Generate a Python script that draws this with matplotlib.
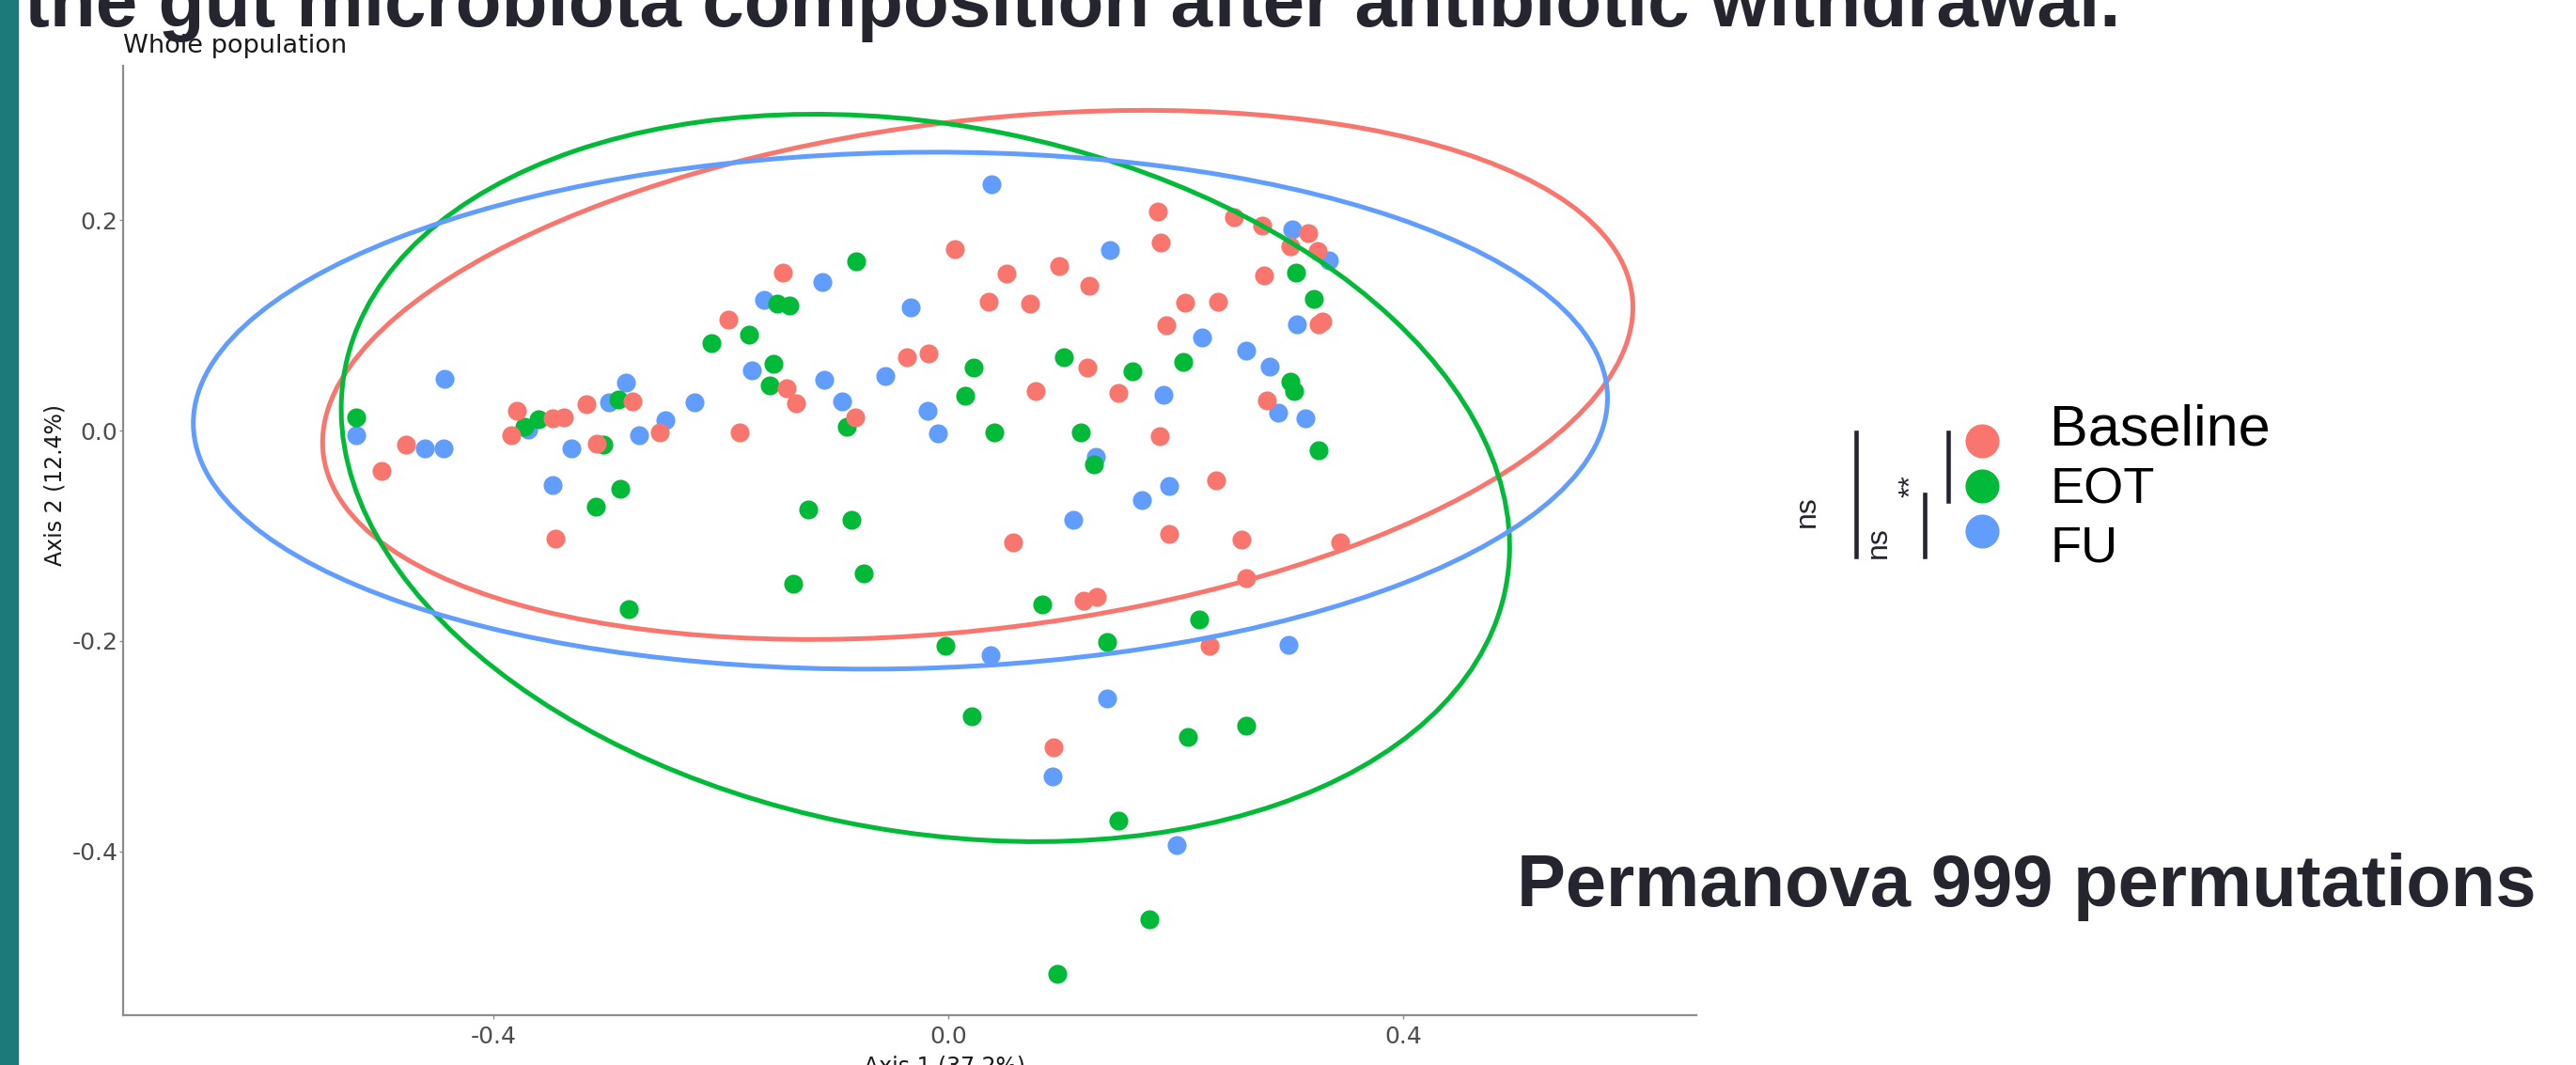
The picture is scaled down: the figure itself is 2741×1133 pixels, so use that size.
import matplotlib
matplotlib.use("Agg")
import matplotlib.pyplot as plt
from matplotlib.patches import Ellipse
import numpy as np

# PCoA coordinates (Axis 1, Axis 2)
baseline_x = [-0.145, -0.193, -0.142, -0.134, -0.183, -0.379, -0.384, -0.348, -0.338, -0.318,
              -0.278, -0.309, -0.254, -0.477, -0.498, -0.345, 0.006, 0.184, 0.187, 0.251,
              0.276, 0.301, 0.278, 0.051, 0.098, 0.124, 0.036, 0.072, 0.208, 0.237,
              0.192, -0.036, -0.017, 0.122, 0.077, 0.150, -0.082, 0.280, 0.186, 0.236,
              0.057, 0.194, 0.258, 0.262, 0.119, 0.131, 0.230, 0.317, 0.325, 0.326,
              0.329, 0.345, 0.093]
baseline_y = [0.150, 0.106, 0.040, 0.026, -0.002, 0.019, -0.004, 0.012, 0.013, 0.025,
              0.028, -0.012, -0.002, -0.013, -0.038, -0.103, 0.173, 0.208, 0.179, 0.203,
              0.195, 0.175, 0.148, 0.149, 0.157, 0.138, 0.123, 0.121, 0.122, 0.123,
              0.100, 0.070, 0.073, 0.060, 0.038, 0.036, 0.013, 0.029, -0.005, -0.047,
              -0.106, -0.098, -0.104, -0.140, -0.162, -0.158, -0.205, 0.188, 0.171, 0.101,
              0.104, -0.106, -0.301]

eot_x = [-0.521, -0.150, -0.140, -0.208, -0.175, -0.154, -0.157, -0.290, -0.373, -0.360,
         -0.303, -0.288, -0.310, -0.123, -0.136, -0.281, -0.081, 0.022, 0.015, 0.102,
         0.162, 0.207, -0.089, 0.041, 0.117, 0.128, 0.301, 0.304, 0.306, 0.322,
         0.326, -0.085, -0.074, 0.083, 0.221, -0.002, 0.140, 0.021, 0.211, 0.262,
         0.150, 0.177, 0.096]
eot_y = [0.013, 0.121, 0.119, 0.083, 0.091, 0.064, 0.043, 0.030, 0.004, 0.011,
         -0.013, -0.055, -0.072, -0.075, -0.146, -0.170, 0.161, 0.060, 0.033, 0.070,
         0.056, 0.065, 0.004, -0.002, -0.002, -0.032, 0.047, 0.038, 0.150, 0.125,
         -0.019, -0.085, -0.136, -0.165, -0.180, -0.205, -0.201, -0.272, -0.291, -0.281,
         -0.371, -0.465, -0.517]

fu_x = [-0.443, -0.521, -0.460, -0.444, -0.162, -0.173, -0.283, -0.298, -0.223, -0.249,
        -0.272, -0.331, -0.369, -0.348, 0.038, -0.111, -0.033, 0.142, -0.109, -0.055,
        -0.093, -0.018, -0.009, 0.223, 0.189, 0.262, 0.283, 0.290, 0.130, 0.194,
        0.170, 0.110, 0.303, 0.335, 0.307, 0.314, 0.037, 0.299, 0.140, 0.092,
        0.201]
fu_y = [0.049, -0.004, -0.017, -0.017, 0.124, 0.057, 0.046, 0.027, 0.027, 0.010,
        -0.004, -0.017, 0.001, -0.052, 0.234, 0.141, 0.117, 0.172, 0.048, 0.052,
        0.028, 0.019, -0.003, 0.089, 0.034, 0.076, 0.061, 0.017, -0.025, -0.053,
        -0.066, -0.085, 0.191, 0.162, 0.101, 0.012, -0.214, -0.204, -0.255, -0.329,
        -0.394]

# 95% ellipses: centre x, centre y, width, height, angle (deg)
groups = ["Baseline", "EOT", "FU"]
ell_cx = [0.026, -0.020, -0.042]
ell_cy = [0.053, -0.045, 0.019]
ell_w = [1.161, 1.042, 1.244]
ell_h = [0.483, 0.670, 0.491]
ell_ang = [7.7, -12.5, 1.3]

colors = {"Baseline": "#F8766D", "EOT": "#00BA38", "FU": "#619CFF"}
dark = "#25252f"

W, H = 2741, 1133
fig = plt.figure(figsize=(W / 100, H / 100), dpi=100)


def fx(px):
    return px / W


def fy(py):
    return 1 - py / H


# teal slide bar
fig.patches.append(plt.Rectangle((0, 0), fx(19), 1, transform=fig.transFigure,
                                 color="#1c7a7a", zorder=0))

ax = fig.add_axes([fx(131), fy(1080), fx(1805) - fx(131), fy(70) - fy(1080)])

# FU at the bottom, then EOT, then Baseline
ax.scatter(fu_x, fu_y, s=210, color=colors["FU"], linewidths=0, zorder=2)
ax.scatter(eot_x, eot_y, s=210, color=colors["EOT"], linewidths=0, zorder=2)
ax.scatter(baseline_x, baseline_y, s=210, color=colors["Baseline"], linewidths=0, zorder=2)

for g, cx, cy, w, h, a in zip(groups, ell_cx, ell_cy, ell_w, ell_h, ell_ang):
    ax.add_patch(Ellipse((cx, cy), w, h, angle=a, fill=False,
                         edgecolor=colors[g], lw=3.6, zorder=3))

ax.set_xlim(-0.7256, 0.658)
ax.set_ylim(-0.556, 0.347)
ax.set_xticks([-0.4, 0.0, 0.4])
ax.set_yticks([-0.4, -0.2, 0.0, 0.2])
ax.set_xticklabels(["-0.4", "0.0", "0.4"])
ax.set_yticklabels(["-0.4", "-0.2", "0.0", "0.2"])
for s in ["top", "right"]:
    ax.spines[s].set_visible(False)
for s in ["left", "bottom"]:
    ax.spines[s].set_color("#8c8c8c")
    ax.spines[s].set_linewidth(1.6)
ax.tick_params(axis="both", length=3, width=1, color="#8c8c8c",
               labelsize=18, labelcolor="#4d4d4d")
ax.tick_params(axis="x", pad=5)
ax.tick_params(axis="y", pad=1)

ax.set_xlabel("Axis 1 (37.2%)", fontsize=17, color="#1a1a1a")
ax.set_ylabel("Axis 2 (12.4%)", fontsize=17, color="#1a1a1a")
ax.xaxis.set_label_coords(0.522, -0.042)
ax.yaxis.set_label_coords(-0.036, 0.558)

fig.text(fx(131), fy(49), "Whole population", fontsize=19.5, color="#1a1a1a",
         ha="left", va="center")

# slide title (cut off by the top edge)
fig.text(fx(26), fy(28), "the gut microbiota composition after antibiotic withdrawal.",
         fontsize=57.7, fontweight="bold", color=dark, family="Liberation Sans",
         ha="left", va="baseline")

# legend drawn by hand
leg_y = [469, 517, 565]
leg_size = [44, 39, 39]
leg_base = [473, 535, 597]
for g, ly, fs, lb in zip(groups, leg_y, leg_size, leg_base):
    fig.add_artist(plt.Line2D([fx(2109)], [fy(ly)], marker="o", markersize=26,
                              color=colors[g], markeredgewidth=0,
                              transform=fig.transFigure))
    fig.text(fx(2181), fy(lb), g, fontsize=fs, color="black",
             family="Liberation Sans", ha="left", va="baseline")

# significance brackets
for x0, y0, y1 in [(1975, 460, 592), (2048, 526, 592), (2073, 460, 533)]:
    fig.add_artist(plt.Line2D([fx(x0), fx(x0)], [fy(y0), fy(y1)], lw=3.3,
                              color=dark, transform=fig.transFigure))
fig.text(fx(1923), fy(544), "ns", rotation=90, fontsize=23, color=dark,
         family="Liberation Sans", ha="center", va="center")
fig.text(fx(1999), fy(577), "ns", rotation=90, fontsize=23, color=dark,
         family="Liberation Sans", ha="center", va="center")
fig.text(fx(2034), fy(517), "**", rotation=90, fontsize=22, color=dark,
         family="Liberation Sans", ha="center", va="center")

fig.text(fx(1614), fy(964), "Permanova 999 permutations", fontsize=56,
         fontweight="bold", color=dark, family="Liberation Sans",
         ha="left", va="baseline")

fig.savefig("out.png", dpi=100)
